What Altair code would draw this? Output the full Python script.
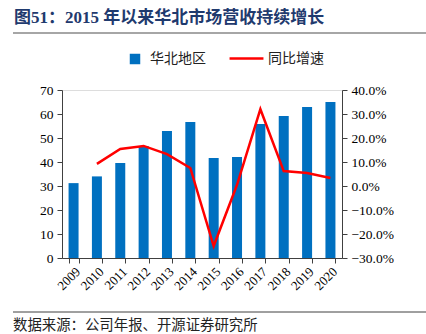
import altair as alt
import pandas as pd

years = ["2009", "2010", "2011", "2012", "2013", "2014", "2015", "2016", "2017", "2018", "2019", "2020"]
revenue = [31.2, 34.0, 39.6, 46.7, 52.9, 56.7, 41.7, 42.1, 55.8, 59.2, 62.9, 65.0]
growth_years = ["2010", "2011", "2012", "2013", "2014", "2015", "2016", "2017", "2018", "2019", "2020"]
growth = [0.092, 0.154, 0.167, 0.133, 0.075, -0.25, 0.005, 0.32, 0.062, 0.054, 0.033]

title_text = "图51：2015 年以来华北市场营收持续增长"
source_text = "数据来源：公司年报、开源证券研究所"
bar_name = "华北地区"
line_name = "同比增速"

serif = "Liberation Serif, Noto Sans CJK SC"

bars_df = pd.DataFrame({"year": years, "value": revenue, "series": bar_name})
line_df = pd.DataFrame({"year": growth_years, "g": growth, "series": line_name})

xenc = alt.X("year:N", sort=years, title=None,
             scale=alt.Scale(paddingInner=0.57, paddingOuter=0.28),
             axis=alt.Axis(labelAngle=-45, labelAlign="right", labelBaseline="top",
                           labelFont=serif, labelFontSize=13, labelColor="#000",
                           tickBand="extent", domainColor="#404040", tickColor="#404040",
                           labelPadding=2))

bars = alt.Chart(bars_df).mark_bar(size=10).encode(
    x=xenc,
    y=alt.Y("value:Q", title=None,
            scale=alt.Scale(domain=[0, 70], nice=False),
            axis=alt.Axis(values=[0, 10, 20, 30, 40, 50, 60, 70], grid=False,
                          labelFont=serif, labelFontSize=13.5, labelColor="#000",
                          domainColor="#404040", tickColor="#404040", tickSize=5,
                          labelPadding=4)),
    color=alt.Color("series:N", scale=alt.Scale(domain=[bar_name], range=["#0070C0"]),
                    legend=alt.Legend(title=None, orient="none", legendX=66, legendY=-38,
                                      symbolType="square", symbolSize=110,
                                      labelFont="Noto Sans CJK SC", labelFontSize=14,
                                      labelOffset=8, labelColor="#222")),
)

line = alt.Chart(line_df).mark_line(strokeWidth=2.5).encode(
    x=alt.X("year:N", sort=years),
    y=alt.Y("g:Q", title=None,
            scale=alt.Scale(domain=[-0.3, 0.4], nice=False),
            axis=alt.Axis(orient="right", format=".1%",
                          values=[-0.3, -0.2, -0.1, 0, 0.1, 0.2, 0.3, 0.4], grid=False,
                          labelFont=serif, labelFontSize=13.5, labelColor="#000",
                          domainColor="#404040", tickColor="#404040", tickSize=5,
                          labelPadding=4)),
    stroke=alt.Stroke("series:N", scale=alt.Scale(domain=[line_name], range=["#FF0000"]),
                      legend=alt.Legend(title=None, orient="none", legendX=166, legendY=-50,
                                        symbolType="stroke", symbolStrokeWidth=2.5,
                                        symbolSize=1150, labelOffset=3,
                                        labelFont="Noto Sans CJK SC", labelFontSize=14,
                                        labelColor="#222")),
)

one = pd.DataFrame({"t": [title_text]})
title = alt.Chart(one).mark_text(align="left", baseline="alphabetic", fontSize=17,
                                 fontWeight="bold", font=serif, color="#1F3A6E").encode(
    x=alt.value(-48), y=alt.value(-67), text="t:N")

src = alt.Chart(pd.DataFrame({"t": [source_text]})).mark_text(
    align="left", baseline="alphabetic", fontSize=14.4, font="Noto Sans CJK SC",
    color="#222").encode(x=alt.value(-49), y=alt.value(240), text="t:N")

rule_top = alt.Chart(one).mark_rule(color="#A6A6A6", strokeWidth=2).encode(
    x=alt.value(-49), x2=alt.value(364), y=alt.value(-57))
rule_bot = alt.Chart(one).mark_rule(color="#404040", strokeWidth=1).encode(
    x=alt.value(-49), x2=alt.value(364), y=alt.value(222))

chart = alt.layer(bars, line, title, src, rule_top, rule_bot).resolve_scale(
    y="independent", color="independent", stroke="independent"
).properties(
    width=280, height=168,
    autosize=alt.AutoSizeParams(type="none"),
    padding={"left": 62, "top": 90, "right": 84, "bottom": 76},
).configure_view(stroke=None).configure(background="white")

chart.save("out.html", embed_options={"renderer": "svg", "actions": False})
